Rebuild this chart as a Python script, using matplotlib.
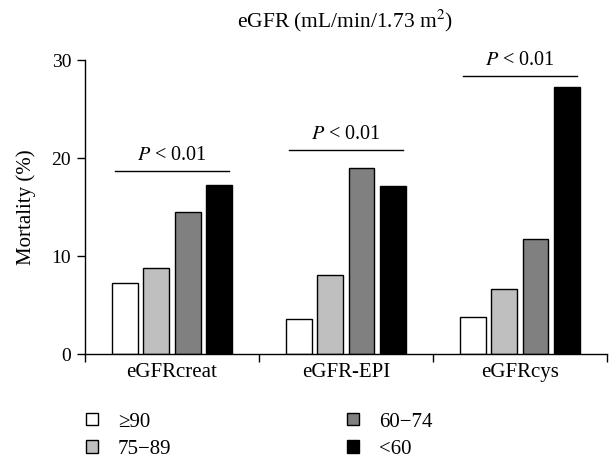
import matplotlib
matplotlib.use('Agg')
import matplotlib.pyplot as plt
from matplotlib.patches import Patch
import numpy as np

plt.rcParams['font.family'] = ['Liberation Serif', 'DejaVu Serif']
plt.rcParams['mathtext.fontset'] = 'stix'

# data
methods = ['eGFRcreat', 'eGFR-EPI', 'eGFRcys']
groups = ['≥90', '75−89', '60−74', '<60']
mortality = {
    '≥90':   [7.3, 3.6, 3.8],
    '75−89': [8.8, 8.1, 6.7],
    '60−74': [14.5, 19.0, 11.8],
    '<60':   [17.3, 17.2, 27.2],
}
p_text = ['$P$ < 0.01', '$P$ < 0.01', '$P$ < 0.01']
p_level = [18.7, 20.8, 28.4]
colors = ['white', '#bfbfbf', '#808080', 'black']

fig = plt.figure(figsize=(6.1, 4.63), dpi=100)
ax = fig.add_axes([0.1393, 0.2348, 0.8557, 0.6356])

x = np.arange(len(methods))
step = 0.181
width = 0.147
for i, g in enumerate(groups):
    ax.bar(x + (i - 1.5) * step, mortality[g], width, color=colors[i],
           edgecolor='black', linewidth=1.0, label=g)

for xi, lvl, t in zip(x, p_level, p_text):
    ax.plot([xi - 0.325, xi + 0.325], [lvl, lvl], color='black', lw=1.0)
    ax.text(xi, lvl + 0.6, t, ha='center', va='bottom', fontsize=14.5)

ax.set_xlim(-0.5, 2.5)
ax.set_ylim(0, 30)
ax.set_yticks([0, 10, 20, 30])
ax.set_xticks([-0.5, 0.5, 1.5, 2.5], minor=False)
ax.set_xticklabels([])
ax.set_xticks(x, minor=True)
ax.set_xticklabels(methods, minor=True, fontsize=15)
ax.tick_params(axis='x', which='minor', length=0, pad=6)
ax.tick_params(axis='x', which='major', length=6, width=1.0, direction='out')
ax.tick_params(axis='y', length=6, width=1.0, labelsize=14, pad=4)
ax.spines['top'].set_visible(False)
ax.spines['right'].set_visible(False)
ax.spines['left'].set_linewidth(1.0)
ax.spines['bottom'].set_linewidth(1.0)
ax.set_ylabel('Mortality (%)', fontsize=15, labelpad=11)

fig.text(0.566, 0.955, 'eGFR (mL/min/1.73 m$^2$)', ha='center', va='center',
         fontsize=15.5)

handles = [Patch(facecolor=c, edgecolor='black', linewidth=1.0) for c in colors]
fig.legend(handles, groups, ncol=2, loc='upper left',
           bbox_to_anchor=(0.124, 0.1315), frameon=False, fontsize=15,
           handlelength=0.55, handleheight=0.55, handletextpad=0.98,
           columnspacing=8.45, labelspacing=0.4, borderpad=0)

fig.savefig('out.png', dpi=100)
